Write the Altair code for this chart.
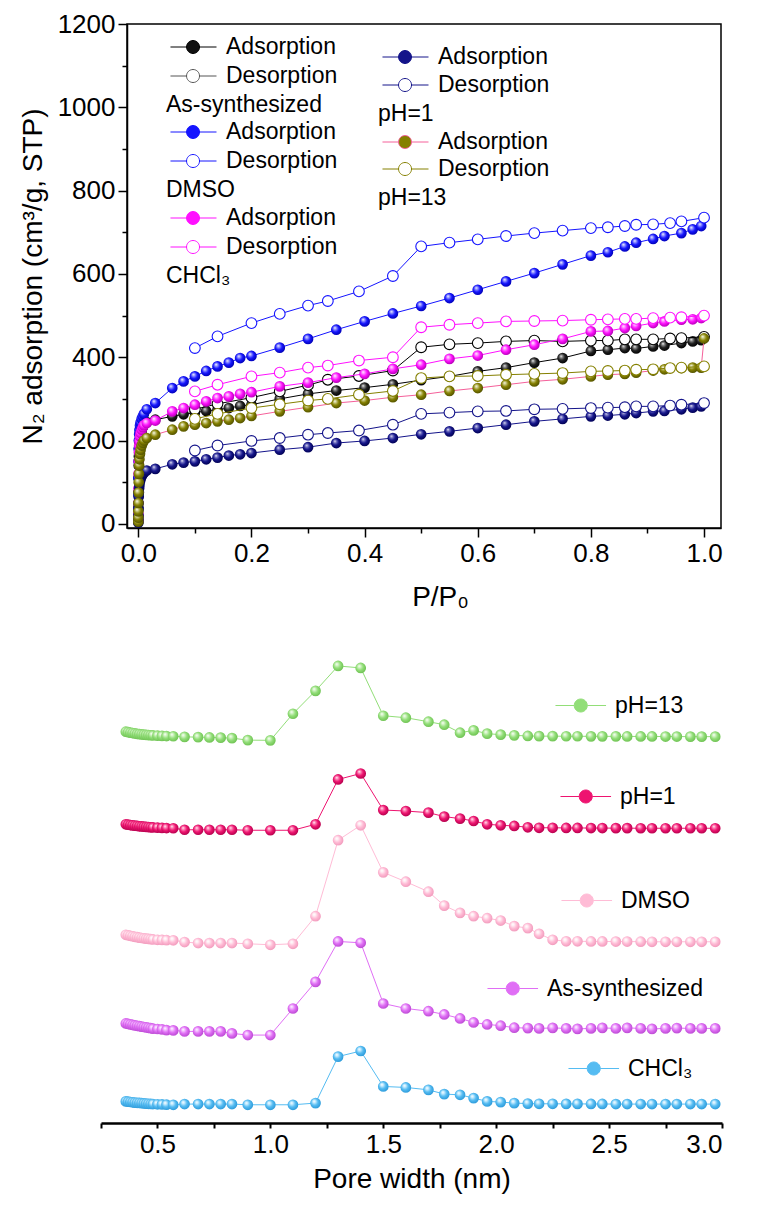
import altair as alt
import pandas as pd

FONT = "Liberation Sans"

# ---------------- Top panel: N2 isotherms ----------------
P_LOW = [0.00002, 0.00005, 0.0001, 0.0002, 0.0004, 0.0007, 0.001, 0.0015,
         0.002, 0.003, 0.004, 0.006, 0.008, 0.01, 0.015]
P_ADS = [0.03, 0.06, 0.08, 0.10, 0.12, 0.14, 0.16, 0.18, 0.20, 0.25, 0.30,
         0.35, 0.40, 0.45, 0.50, 0.55, 0.60, 0.65, 0.70, 0.75, 0.80, 0.83,
         0.86, 0.88, 0.91, 0.93, 0.96, 0.98, 0.995]
P_DES = [1.0, 0.96, 0.94, 0.91, 0.88, 0.86, 0.83, 0.80, 0.75, 0.70, 0.65,
         0.60, 0.55, 0.50, 0.45, 0.39, 0.335, 0.30, 0.25, 0.20, 0.14, 0.10]
P_END = [1.0]

AS_LOW = [5, 18, 40, 75, 110, 140, 162, 180, 192, 205, 214, 224, 232, 238, 244]
AS_ADS = [250, 258, 263, 267, 271, 274, 278, 283, 286, 300, 312, 320, 327, 335,
          345, 354, 366, 375, 387, 398, 415, 418, 422, 421, 426, 428, 434, 438, 441]
AS_DES = [449, 446, 445, 443, 443, 443, 440, 440, 438, 440, 438, 434, 431, 424,
          368, 355, 346, 333, 318, 303, 288, 275]

DMSO_LOW = [12, 35, 70, 110, 150, 180, 200, 215, 225, 236, 243, 252, 258, 264, 275]
DMSO_ADS = [290, 326, 342, 354, 367, 378, 387, 398, 403, 423, 444, 466, 486, 505,
            523, 542, 562, 582, 602, 623, 644, 652, 666, 675, 684, 691, 698, 707, 715]
DMSO_DES = [735, 726, 722, 719, 718, 715, 712, 710, 704, 698, 691, 683, 675, 666,
            595, 558, 535, 524, 504, 482, 450, 422]

CHCL3_LOW = [8, 25, 50, 85, 120, 150, 172, 188, 198, 210, 218, 226, 232, 237, 242]
CHCL3_ADS = [248, 270, 278, 286, 294, 302, 306, 312, 316, 330, 339, 351, 360, 372,
             382, 396, 404, 418, 430, 444, 462, 463, 470, 475, 482, 486, 490, 491, 494]
CHCL3_DES = [500, 496, 495, 494, 492, 492, 491, 490, 488, 487, 486, 482, 478, 472,
             400, 392, 380, 375, 363, 354, 334, 318]

PH1_LOW = [3, 10, 20, 35, 50, 65, 76, 86, 94, 102, 108, 114, 119, 123, 128]
PH1_ADS = [132, 143, 147, 150, 155, 159, 164, 167, 170, 178, 184, 194, 199, 206,
           215, 222, 230, 238, 246, 252, 258, 260, 263, 266, 270, 271, 275, 279, 282]
PH1_DES = [290, 286, 284, 282, 282, 280, 279, 278, 276, 275, 271, 270, 267, 264,
           238, 224, 218, 214, 206, 199, 188, 176]

PH13_LOW = [5, 15, 30, 50, 75, 100, 120, 140, 155, 168, 178, 188, 195, 200, 206]
PH13_ADS = [214, 226, 234, 238, 242, 246, 250, 254, 259, 270, 280, 290, 296, 304,
            310, 319, 326, 334, 342, 347, 354, 358, 360, 363, 368, 371, 374, 375, 375]
PH13_END = [445]
PH13_DES = [378, 375, 374, 371, 370, 368, 367, 366, 362, 360, 358, 355, 354, 350,
            319, 310, 300, 296, 287, 278, 264, 252]

TOP_X_TICKS = [0.0, 0.1, 0.2, 0.3, 0.4, 0.5, 0.6, 0.7, 0.8, 0.9, 1.0]
TOP_Y_TICKS = [0, 100, 200, 300, 400, 500, 600, 700, 800, 900, 1000, 1100, 1200]

# ---------------- Bottom panel: pore size distributions ----------------
W = [0.36, 0.37, 0.38, 0.39, 0.40, 0.41, 0.42, 0.43, 0.44, 0.45, 0.46, 0.47, 0.48,
     0.50, 0.52, 0.54, 0.57, 0.62, 0.68, 0.73, 0.78, 0.83, 0.90, 1.00, 1.10, 1.20,
     1.30, 1.40, 1.50, 1.60, 1.70, 1.77, 1.84, 1.90, 1.96, 2.02, 2.08, 2.14, 2.19,
     2.25, 2.31, 2.36, 2.42, 2.47, 2.53, 2.58, 2.64, 2.69, 2.75, 2.80, 2.86, 2.91, 2.97]

PSD_PH13 = [6, 5.5, 5, 4.6, 4.2, 3.8, 3.5, 3.2, 3, 2.8, 2.6, 2.4, 2.2, 2, 1.8, 1.6,
            1.4, 0.8, 0.5, 0.2, 0, -0.5, -2.5, -2.7, 24, 47, 72, 70, 22, 20, 16,
            13, 5, 7.3, 4, 3, 2.3, 1.7, 1.5, 1.5, 1.4, 1.4, 1.3, 1.3, 1.3, 1.2, 1.2,
            1.2, 1.1, 1.1, 1, 1, 1]
PSD_PH1 = [4, 3.6, 3.2, 2.9, 2.6, 2.3, 2.0, 1.8, 1.6, 1.4, 1.2, 1.0, 0.8, 0.6, 0.4, 0.2,
           0, -1.5, -1.5, -1.5, -1.5, -1.5, -2, -2, -2, 4, 49, 55, 18.3, 17.3, 15.7,
           11.7, 9.7, 7.3, 4, 3, 2.3, 1, 0.5, 0.5, 0.3, 0.3, 0.2, 0.2, 0.1, 0.1, 0,
           0, 0, 0, 0, 0, 0]
PSD_DMSO = [7, 6.5, 6, 5.5, 5, 4.6, 4.2, 3.8, 3.5, 3.2, 2.9, 2.6, 2.3, 2.0, 1.8, 1.6,
            1.5, -0.3, -1.3, -1.3, -1.3, -1.3, -2, -3, -2, 25.7, 102, 117, 69.7, 60.3,
            50.3, 36.3, 29, 25.7, 23.7, 21.3, 15.7, 13.7, 8, 2, 0.5, 0.5, 0.3, 0.3,
            0.2, 0.2, 0.1, 0, 0, 0, 0, 0, 0]
PSD_AS = [5, 4.5, 4, 3.5, 3, 2.6, 2.2, 1.8, 1.4, 1, 0.6, 0.2, -0.2, -0.6, -1, -1.7,
          -2, -3, -3, -3, -3, -5, -6.7, -6.7, 20, 46.7, 87.3, 86, 25, 20, 17.3,
          14, 10, 6, 4, 2.7, 0.7, 0.3, 0, 0.5, 0, -0.5, 0, 0.5, 0, 0.5, 0, -0.5, 0,
          0.3, 0, 0, 0]
PSD_CHCL3 = [2.7, 2.4, 2.1, 1.8, 1.5, 1.3, 1.1, 0.9, 0.7, 0.5, 0.3, 0.1, 0, -0.2, -0.4,
             -0.6, -0.7, 0, 0, 0, 0, 0, -0.7, -0.7, -0.7, 1, 47.7, 53.3, 17.7, 16.7,
             14.3, 10, 9.3, 6, 2.7, 2, 1, 0.5, 0.3, 0.3, 0.2, 0.2, 0.1, 0.1, 0, 0, 0,
             0, 0, 0, 0, 0, 0]
PSD_NAMES = ["pH=13", "pH=1", "DMSO", "As-synthesized", "CHCl₃"]
PSD_OFFSETS = [387, 296, 182, 95, 19]
BOT_X_TICKS = [0.25, 0.5, 0.75, 1.0, 1.25, 1.5, 1.75, 2.0, 2.25, 2.5, 2.75, 3.0]

# ---------------- layout ----------------
PW = 594            # plot width of both panels
TOP_H = 504
BOT_H = 468
K = PW / 619        # horizontal factor relative to reference measurements


# ---------------- styling helpers ----------------
def ball(light, base, dark):
    return {"gradient": "radial", "x1": 0.36, "y1": 0.32, "r1": 0.0,
            "x2": 0.45, "y2": 0.45, "r2": 0.58,
            "stops": [{"offset": 0.0, "color": "#ffffff"},
                      {"offset": 0.2, "color": light},
                      {"offset": 0.55, "color": base},
                      {"offset": 1.0, "color": dark}]}


PATH_TOP = "M-1.08,0H1.39M3.39,0H6.0M1.39,0A1,1 0 1,1 3.39,0A1,1 0 1,1 1.39,0Z"
PATH_BOT = "M-1.08,0H1.81M3.81,0H6.7M1.81,0A1,1 0 1,1 3.81,0A1,1 0 1,1 1.81,0Z"
PT_SIZE = 115

x_top = alt.X("p:Q", scale=alt.Scale(domain=[-0.02, 1.03], nice=False, zero=False),
              axis=alt.Axis(values=TOP_X_TICKS, title="P/P₀",
                            labelExpr="round(datum.value*10) % 2 == 0 ? format(datum.value, '.1f') : ''",
                            tickSize={"condition": {"test": "round(datum.value*10) % 2 == 0", "value": 9}, "value": 5},
                            tickColor="black", tickWidth=1.5, domainColor="black", domainWidth=1.5,
                            labelFont=FONT, labelFontSize=26, labelColor="black", labelPadding=3,
                            titleFont=FONT, titleFontSize=28, titleFontWeight="normal",
                            titleColor="black", titlePadding=17, titleX=round(326 * K), grid=False))
y_top = alt.Y("v:Q", scale=alt.Scale(domain=[-10, 1200], nice=False, zero=False),
              axis=alt.Axis(values=TOP_Y_TICKS, title="N₂ adsorption (cm³/g, STP)",
                            labelExpr="datum.value % 200 == 0 ? datum.value : ''",
                            tickSize={"condition": {"test": "datum.value % 200 == 0", "value": 9}, "value": 5},
                            tickColor="black", tickWidth=1.5, domainColor="black", domainWidth=1.5,
                            labelFont=FONT, labelFontSize=26, labelColor="black", labelPadding=3,
                            titleFont=FONT, titleFontSize=28, titleFontWeight="normal",
                            titleColor="black", titlePadding=10, grid=False))


def iso(p, v, line_color, point_fill, point_stroke=None):
    df = pd.DataFrame({"p": p, "v": v, "i": list(range(len(p)))})
    base = alt.Chart(df).encode(x=x_top, y=y_top, order=alt.Order("i:Q"))
    line = base.mark_line(color=line_color, strokeWidth=1)
    if point_stroke:
        pts = base.mark_point(shape="circle", filled=True, fill=point_fill, stroke=point_stroke,
                              strokeWidth=1.1, size=PT_SIZE, opacity=1)
    else:
        pts = base.mark_point(shape="circle", filled=True, fill=point_fill, strokeWidth=0,
                              size=PT_SIZE, opacity=1)
    return [line, pts]


def legend_only(label, line_color, fill_color, path, lx, ly, loff, title=None):
    kw = dict(orient="none", legendX=lx, legendY=ly, symbolType=path, symbolSize=169,
              symbolStrokeWidth=1, symbolFillColor=fill_color, padding=0, rowPadding=0,
              labelFont=FONT, labelFontSize=23, labelColor="black", labelOffset=loff,
              labelLimit=400)
    if title:
        kw.update(title=title, titleOrient="bottom", titleFont=FONT, titleFontSize=23,
                  titleFontWeight="normal", titleColor="black", titleAnchor="start",
                  titlePadding=5, titleLimit=400)
    else:
        kw["title"] = None
    df = pd.DataFrame({"k": [label]})
    return (alt.Chart(df).transform_filter("false")
            .mark_point(shape=path, filled=True, fill=fill_color, size=169, opacity=1, strokeWidth=1)
            .encode(stroke=alt.Stroke("k:N", scale=alt.Scale(domain=[label], range=[line_color]),
                                      legend=alt.Legend(**kw))))


BLACK = ball("#909090", "#202020", "#000000")
BLUE = ball("#9da0ff", "#1515ff", "#0000b0")
MAGENTA = ball("#ffa0ff", "#ff10ff", "#b000b0")
NAVY = ball("#8080c8", "#14148a", "#00004f")
OLIVE = ball("#d0d090", "#858000", "#4f4f00")

top_layers = []
top_layers += iso(P_LOW + P_ADS, AS_LOW + AS_ADS, "#000000", BLACK)
top_layers += iso(P_DES, AS_DES, "#000000", "white", "#000000")
top_layers += iso(P_LOW + P_ADS, DMSO_LOW + DMSO_ADS, "#1515ff", BLUE)
top_layers += iso(P_DES, DMSO_DES, "#1515ff", "white", "#1515ff")
top_layers += iso(P_LOW + P_ADS, CHCL3_LOW + CHCL3_ADS, "#ff10ff", MAGENTA)
top_layers += iso(P_DES, CHCL3_DES, "#ff10ff", "white", "#ff10ff")
top_layers += iso(P_LOW + P_ADS, PH1_LOW + PH1_ADS, "#14148a", NAVY)
top_layers += iso(P_DES, PH1_DES, "#14148a", "white", "#14148a")
top_layers += iso(P_LOW + P_ADS + P_END, PH13_LOW + PH13_ADS + PH13_END, "#f5609a", OLIVE)
top_layers += iso(P_DES, PH13_DES, "#858000", "white", "#858000")

# legend rows: centre y measured in the reference relative to the top plot's upper edge (29 px)
REF_T = 29
HALF = 11.5
C1X, C2X = round(41 * K), round(262 * K)
LOFF_T = 37
top_layers += [
    legend_only("Adsorption", "#000000", "#111111", PATH_TOP, C1X, 52 - REF_T - HALF, LOFF_T),
    legend_only("Desorption", "#555555", "white", PATH_TOP, C1X, 81 - REF_T - HALF, LOFF_T, "As-synthesized"),
    legend_only("Adsorption", "#1515ff", "#1515ff", PATH_TOP, C1X, 137 - REF_T - HALF, LOFF_T),
    legend_only("Desorption", "#1515ff", "white", PATH_TOP, C1X, 166 - REF_T - HALF, LOFF_T, "DMSO"),
    legend_only("Adsorption", "#ff10ff", "#ff10ff", PATH_TOP, C1X, 223 - REF_T - HALF, LOFF_T),
    legend_only("Desorption", "#ff10ff", "white", PATH_TOP, C1X, 252 - REF_T - HALF, LOFF_T, "CHCl₃"),
    legend_only("Adsorption", "#14148a", "#14148a", PATH_TOP, C2X, 62 - REF_T - HALF, LOFF_T),
    legend_only("Desorption", "#14148a", "white", PATH_TOP, C2X, 90 - REF_T - HALF, LOFF_T, "pH=1"),
    legend_only("Adsorption", "#f5609a", "#858000", PATH_TOP, C2X, 147 - REF_T - HALF, LOFF_T),
    legend_only("Desorption", "#858000", "white", PATH_TOP, C2X, 174 - REF_T - HALF, LOFF_T, "pH=13"),
]

top = (alt.layer(*top_layers)
       .resolve_scale(stroke="independent")
       .properties(width=PW, height=TOP_H,
                   view=alt.ViewBackground(stroke="black", strokeWidth=1.5)))

# ---------------- bottom chart ----------------
x_bot = alt.X("w:Q", scale=alt.Scale(domain=[0.25, 3.0], range=[-26, PW + 1], nice=False, zero=False),
              axis=alt.Axis(values=BOT_X_TICKS, title="Pore width (nm)",
                            labelExpr="round(datum.value*4) % 2 == 0 ? format(datum.value, '.1f') : ''",
                            tickSize=5, tickColor="black", tickWidth=2, domainColor="black",
                            domainWidth=2.5, labelFont=FONT, labelFontSize=26, labelColor="black",
                            labelPadding=3, labelFlush=True, titleFont=FONT, titleFontSize=28,
                            titleFontWeight="normal", titleColor="black", titlePadding=8,
                            grid=False))
y_bot = alt.Y("h:Q", scale=alt.Scale(domain=[0, 470], nice=False, zero=False), axis=None)

PSD_SERIES = [PSD_PH13, PSD_PH1, PSD_DMSO, PSD_AS, PSD_CHCL3]
PSD_COLORS = ["#92de78", "#ee1470", "#ffbcd6", "#e06ef5", "#55bcf2"]
PSD_BALLS = [ball("#d8f5cc", "#92de78", "#6cc050"),
             ball("#ff90bc", "#ee1470", "#b0004a"),
             ball("#fff0f5", "#ffbcd6", "#f098ba"),
             ball("#f5c8ff", "#e06ef5", "#b848d0"),
             ball("#cdeeff", "#55bcf2", "#2a98d8")]
REF_BT, REF_BL = 665, 139
LEG_POS = [(581, 716), (586, 807), (587, 912), (510, 1000), (594, 1080)]

bot_layers = []
for vals, off, col, grad in reversed(list(zip(PSD_SERIES, PSD_OFFSETS, PSD_COLORS, PSD_BALLS))):
    df = pd.DataFrame({"w": W, "h": [off + v for v in vals]})
    base = alt.Chart(df).encode(x=x_bot, y=y_bot)
    bot_layers.append(base.mark_line(color=col, strokeWidth=1))
    bot_layers.append(base.mark_point(shape="circle", filled=True, fill=grad, strokeWidth=0,
                                      size=PT_SIZE, opacity=1))
for name, col, (px, py) in zip(PSD_NAMES, PSD_COLORS, LEG_POS):
    bot_layers.append(legend_only(name, col, col, PATH_BOT, round((px - REF_BL) * K),
                                  round((py - REF_BT) * BOT_H / 470 - HALF), 41))

bottom = (alt.layer(*bot_layers)
          .resolve_scale(stroke="independent")
          .properties(width=PW, height=BOT_H,
                      view=alt.ViewBackground(stroke="transparent")))

chart = (alt.vconcat(top, bottom, spacing=42)
         .properties(padding={"left": 10, "top": 2, "right": 0, "bottom": 0})
         .configure_view(stroke="transparent"))

chart.save("out.html", embed_options={"renderer": "svg", "actions": False})
